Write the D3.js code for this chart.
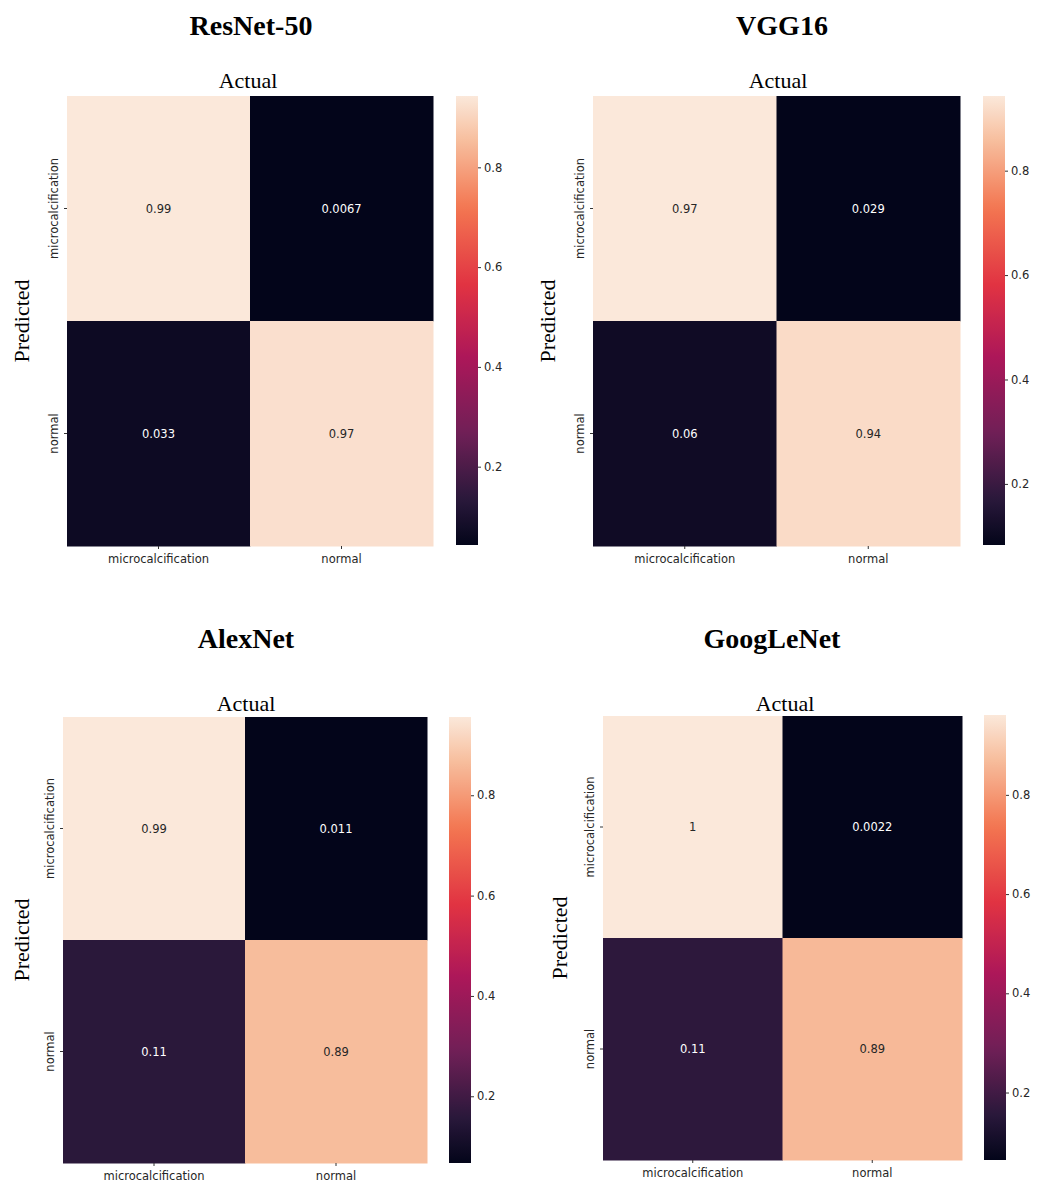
<!DOCTYPE html>
<html>
<head>
<meta charset="utf-8">
<script src="https://cdn.jsdelivr.net/npm/d3@7"></script>
<style>
  html, body { margin: 0; padding: 0; background: #fff; }
</style>
</head>
<body>
<svg id="chart" width="1038" height="1183"></svg>
<script>
// ---------------- DATA ----------------
const modelNames = ["ResNet-50", "VGG16", "AlexNet", "GoogLeNet"];
const classLabels = ["microcalcification", "normal"];
// rows = Predicted, cols = Actual
const resnetValues = [[0.99, 0.0067], [0.033, 0.97]];
const vggValues = [[0.97, 0.029], [0.06, 0.94]];
const alexnetValues = [[0.99, 0.011], [0.11, 0.89]];
const googlenetValues = [[1, 0.0022], [0.11, 0.89]];
const annotationLabels = [
  [["0.99", "0.0067"], ["0.033", "0.97"]],
  [["0.97", "0.029"], ["0.06", "0.94"]],
  [["0.99", "0.011"], ["0.11", "0.89"]],
  [["1", "0.0022"], ["0.11", "0.89"]]
];
const colorbarTicks = [0.2, 0.4, 0.6, 0.8];
const colorbarTickLabels = ["0.2", "0.4", "0.6", "0.8"];
const colorbarRanges = [[0.043, 0.943], [0.083, 0.943], [0.067, 0.956], [0.064, 0.961]];
const axisTitles = { x: "Actual", y: "Predicted" };

// rocket-like colour map
const rocketStops = [
  [0.00, "#03051a"], [0.10, "#29183a"], [0.25, "#701f57"], [0.42, "#ad1759"],
  [0.58, "#e13342"], [0.75, "#f37651"], [0.90, "#f7be9d"], [1.00, "#fbe8da"]
];
const rocket = d3.scaleLinear()
  .domain(rocketStops.map(d => d[0]))
  .range(rocketStops.map(d => d[1]))
  .interpolate(d3.interpolateRgb)
  .clamp(true);

const SANS = "'DejaVu Sans', sans-serif";
const SERIF = "'Liberation Serif', 'Times New Roman', serif";

// ---------------- LAYOUT ----------------
const panels = [
  { values: resnetValues, hm: [67, 433, 96, 546], cb: [456, 22, 96, 545], title: [251, 35], actual: [248, 88], pred: [29, 321], ylab: 58 },
  { values: vggValues, hm: [593, 960, 96, 546], cb: [983, 22, 96, 545], title: [782, 35], actual: [778, 88], pred: [555, 321], ylab: 584 },
  { values: alexnetValues, hm: [63, 427, 717, 1163], cb: [449, 22, 717, 1163], title: [246, 648], actual: [246, 711], pred: [29, 940], ylab: 54 },
  { values: googlenetValues, hm: [603, 962, 716, 1160], cb: [984, 22, 715, 1160], title: [772, 648], actual: [785, 711], pred: [567, 938], ylab: 594 }
];

const svg = d3.select("#chart");
const defs = svg.append("defs");

panels.forEach((p, i) => {
  const g = svg.append("g");
  const [x0, x1, y0, y1] = p.hm;
  const x = d3.scaleBand().domain(classLabels).range([x0, x1]);
  const y = d3.scaleBand().domain(classLabels).range([y0, y1]);
  const flat = p.values.flat();
  const vmin = d3.min(flat), vmax = d3.max(flat);
  const norm = d3.scaleLinear().domain([vmin, vmax]).range([0, 1]);

  const cells = [];
  classLabels.forEach((r, ri) => classLabels.forEach((c, ci) => {
    cells.push({ row: r, col: c, v: p.values[ri][ci], label: annotationLabels[i][ri][ci] });
  }));

  g.selectAll("rect.cell").data(cells).enter().append("rect")
    .attr("class", "cell")
    .attr("x", d => x(d.col))
    .attr("y", d => y(d.row))
    .attr("width", x.bandwidth() + 0.5)
    .attr("height", y.bandwidth() + 0.5)
    .attr("fill", d => rocket(norm(d.v)));

  g.selectAll("text.ann").data(cells).enter().append("text")
    .attr("class", "ann")
    .attr("x", d => x(d.col) + x.bandwidth() / 2)
    .attr("y", d => y(d.row) + y.bandwidth() / 2)
    .attr("dy", "0.35em")
    .attr("text-anchor", "middle")
    .style("font-family", SANS)
    .style("font-size", "11.5px")
    .attr("fill", d => norm(d.v) > 0.6 ? "#262626" : "#ffffff")
    .text(d => d.label);

  // x axis (bottom)
  const xAxis = g.append("g").attr("transform", `translate(0,${y1})`)
    .call(d3.axisBottom(x).tickSize(3).tickPadding(6));
  xAxis.select(".domain").remove();
  xAxis.selectAll("line").attr("stroke", "#333");
  xAxis.selectAll("text").style("font-size", "11.5px").attr("fill", "#262626")
    .style("font-family", SANS);

  // y axis (left), rotated labels
  const yAxis = g.append("g").attr("transform", `translate(${x0},0)`)
    .call(d3.axisLeft(y).tickSize(3).tickFormat(""));
  yAxis.select(".domain").remove();
  yAxis.selectAll("line").attr("stroke", "#333");
  g.selectAll("text.ylab").data(classLabels).enter().append("text")
    .attr("class", "ylab")
    .attr("transform", d => `translate(${p.ylab},${y(d) + y.bandwidth() / 2}) rotate(-90)`)
    .attr("text-anchor", "middle")
    .style("font-family", SANS)
    .style("font-size", "11.5px")
    .attr("fill", "#262626")
    .text(d => d);

  // colour bar
  const [cx, cw, cy0, cy1] = p.cb;
  const gid = "grad" + i;
  const grad = defs.append("linearGradient").attr("id", gid)
    .attr("x1", 0).attr("y1", 1).attr("x2", 0).attr("y2", 0);
  d3.range(0, 1.0001, 0.02).forEach(t => {
    grad.append("stop").attr("offset", t).attr("stop-color", rocket(t));
  });
  g.append("rect").attr("x", cx).attr("y", cy0).attr("width", cw).attr("height", cy1 - cy0)
    .attr("fill", `url(#${gid})`);
  const cbScale = d3.scaleLinear().domain(colorbarRanges[i]).range([cy1, cy0]);
  const cbAxis = g.append("g").attr("transform", `translate(${cx + cw},0)`)
    .call(d3.axisRight(cbScale).tickValues(colorbarTicks)
      .tickFormat((d, k) => colorbarTickLabels[k]).tickSize(3).tickPadding(3));
  cbAxis.select(".domain").remove();
  cbAxis.selectAll("line").attr("stroke", "#333");
  cbAxis.selectAll("text").style("font-size", "11.5px").attr("fill", "#262626")
    .style("font-family", SANS);

  // titles
  g.append("text").attr("x", p.title[0]).attr("y", p.title[1])
    .attr("text-anchor", "middle").style("font-family", SERIF)
    .style("font-weight", "bold").style("font-size", "28px").attr("fill", "#000")
    .text(modelNames[i]);
  g.append("text").attr("x", p.actual[0]).attr("y", p.actual[1])
    .attr("text-anchor", "middle").style("font-family", SERIF)
    .style("font-size", "22px").attr("fill", "#000")
    .text(axisTitles.x);
  g.append("text").attr("transform", `translate(${p.pred[0]},${p.pred[1]}) rotate(-90)`)
    .attr("text-anchor", "middle").style("font-family", SERIF)
    .style("font-size", "22px").attr("fill", "#000")
    .text(axisTitles.y);
});
</script>
</body>
</html>
